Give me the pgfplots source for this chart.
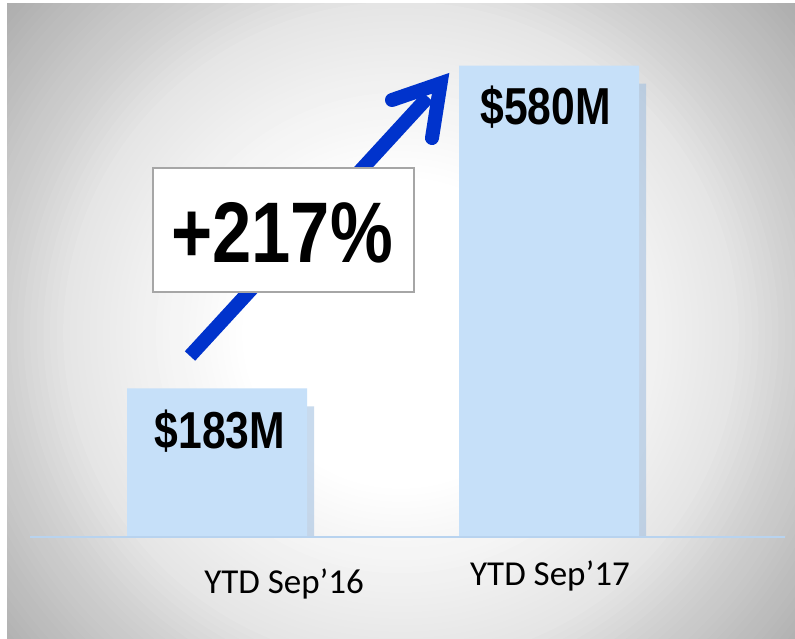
\documentclass[border=0pt]{standalone}
\usepackage{pgfplots}
\pgfplotsset{compat=1.18}
\usepackage{fontspec}
\setmainfont{Carlito}
\newfontfamily\narrowfont[FakeStretch=0.82]{Liberation Sans}
\usetikzlibrary{shadows}
\definecolor{barblue}{HTML}{C6E0F9}
\definecolor{shadowblue}{HTML}{9CBCDF}
\definecolor{arrowblue}{HTML}{0033CC}
\definecolor{baseblue}{HTML}{B8D3EF}
\begin{document}
\begin{tikzpicture}[x=1pt,y=1pt]
\path (0,0) rectangle (795,638);
\begin{scope}
\clip (7,0) rectangle (795,634);
\foreach \i in {80,79,...,1}{
  \pgfmathsetmacro\t{\i/80}
  \pgfmathsetmacro\p{\t<=0.3 ? 0 : (\t<=0.633 ? (\t-0.3)/0.333*10 : (\t<=0.743 ? 10+(\t-0.633)/0.11*8 : 18+(\t-0.743)/0.257*15))}
  \fill[black!\p!white] (401,305) ellipse ({6.625*\i} and {6.5*\i});
}
\end{scope}
\begin{axis}[at={(30pt,101pt)}, anchor=south west,
  scale only axis, width=755pt, height=507pt,
  xmin=-0.5633, xmax=1.7108, ymin=0, ymax=624,
  hide axis, clip mode=individual,
  ybar, bar width=180pt]
\addplot[fill=barblue, draw=none,
  drop shadow={shadow xshift=7pt, shadow yshift=-18pt, fill=shadowblue, opacity=0.55}]
  coordinates {(0,183) (1,580)};
\node[font=\narrowfont\bfseries\fontsize{52}{52}\selectfont, anchor=base] at (axis cs:0.009,108.4) {\$183M};
\node[font=\narrowfont\bfseries\fontsize{52}{52}\selectfont, anchor=base] at (axis cs:0.99,507.4) {\$580M};
\node[font=\fontsize{35}{35}\selectfont, anchor=base] at (axis cs:0.202,-69) {YTD Sep’16};
\node[font=\fontsize{35}{35}\selectfont, anchor=base] at (axis cs:1.003,-60.3) {YTD Sep’17};
\end{axis}
\draw[baseblue, line width=2pt] (30,101)--(785,101);
% arrow
\draw[arrowblue, line width=14pt, line cap=butt] (190,282) -- (428,541);
\draw[arrowblue, line width=14pt, line cap=round, line join=miter, miter limit=10] (392,538) -- (440.6,554.7) -- (432,500);
% box
\draw[fill=white, draw=gray!70, line width=1.2pt] (153,346) rectangle (414,470);
\node[font=\narrowfont\bfseries\fontsize{86}{86}\selectfont, anchor=base] at (282,375) {+217\%};
\end{tikzpicture}
\end{document}
